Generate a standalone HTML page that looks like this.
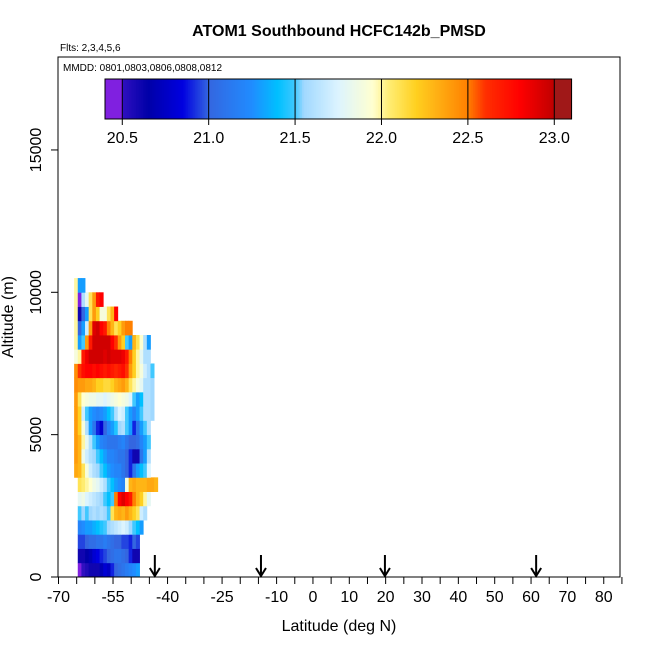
<!DOCTYPE html>
<html><head><meta charset="utf-8"><style>
body{margin:0;background:#fff;}
svg{display:block;font-family:"Liberation Sans",sans-serif;}
</style></head><body>
<svg id="chart" width="650" height="650" xmlns="http://www.w3.org/2000/svg">
<rect width="650" height="650" fill="#fff"/>
<text x="339" y="36" text-anchor="middle" font-size="16" font-weight="bold">ATOM1 Southbound HCFC142b_PMSD</text>
<text x="60" y="51" font-size="10">Flts: 2,3,4,5,6</text>
<g id="heat"></g>
<g id="marks"></g>
<rect x="58" y="57" width="562" height="520" fill="none" stroke="#000" stroke-width="1"/>
<text x="63" y="71" font-size="10">MMDD: 0801,0803,0806,0808,0812</text>
<g id="cbar"></g>
<g id="axes"></g>
<text x="339" y="631" text-anchor="middle" font-size="16">Latitude (deg N)</text>
<text transform="translate(13,317) rotate(-90)" text-anchor="middle" font-size="16">Altitude (m)</text>
</svg>
<script>
const xTicks = [-70,-65,-60,-55,-50,-45,-40,-35,-30,-25,-20,-15,-10,-5,0,5,10,15,20,25,30,35,40,45,50,55,60,65,70,75,80,85];
const xLabels = [-70,-55,-40,-25,-10,0,10,20,30,40,50,60,70,80];
const yTicks = [0,5000,10000,15000];
const arrowLats = [-43.5,-14.3,19.8,61.4];
const cbarTicks = [20.5,21.0,21.5,22.0,22.5,23.0];
const rowAlts = [0,500,1000,1500,2000,2500,3000,3500,4000,4500,5000,5500,6000,6500,7000,7500,8000,8500,9000,9500,10000];
const rowStartCol = [1,1,1,1,1,1,1,0,0,0,0,0,0,0,0,0,0,0,0,0,0];
const rowValues = [
[20.45,20.5,20.55,20.6,20.6,20.6,20.7,20.8,20.75,20.9,21.0,21.05,21.1,21.15,21.2,21.25,21.3],
[20.6,20.6,20.65,20.7,20.8,20.85,20.9,20.95,21.0,21.05,21.1,21.1,21.05,21.0,20.9,20.6,20.6],
[20.95,20.95,21.0,21.05,21.05,21.1,21.1,21.15,21.1,21.05,21.0,21.0,20.95,20.95,20.9,21.0,20.95],
[21.2,21.25,21.3,21.3,21.35,21.4,21.45,21.5,21.55,21.6,21.65,21.7,21.75,21.7,21.55,21.5,21.4,21.3],
[21.5,21.55,21.5,21.55,21.6,21.55,21.6,21.55,21.5,22.1,22.3,22.35,22.3,22.4,22.3,22.2,22.1,21.7,21.6],
[21.8,21.85,21.75,21.7,21.65,21.6,21.55,21.5,21.4,21.5,22.5,22.8,22.9,22.8,22.7,22.5,22.3,22.2,22.0,21.8],
[22.1,22.05,22.0,21.95,21.85,21.8,21.7,21.6,21.5,21.4,21.3,21.25,21.2,21.9,22.3,22.35,22.3,22.3,22.3,22.35,22.35,22.3],
[22.35,22.3,22.1,21.9,21.7,21.6,21.55,21.5,21.4,21.3,21.25,21.2,21.2,21.1,21.0,20.9,21.1,21.3,21.4,21.5,21.75],
[22.4,22.3,21.85,21.7,21.6,21.55,21.5,21.4,21.3,21.2,21.2,21.15,21.1,21.1,21.0,20.9,20.6,20.6,21.1,21.3,21.6],
[22.4,22.3,22.0,21.8,21.6,21.5,21.3,21.2,21.15,21.1,21.1,21.1,21.15,21.2,21.1,21.0,21.0,21.05,21.2,21.3,21.5],
[22.4,22.2,21.9,21.6,21.3,21.1,20.9,20.8,21.0,21.2,21.3,21.45,21.55,21.6,21.5,21.3,20.9,21.1,21.3,21.5,21.6],
[22.4,22.2,21.7,21.5,21.3,21.25,21.2,21.25,21.3,21.4,21.5,21.6,21.75,21.7,21.5,21.3,21.2,21.3,21.5,21.6,21.6,21.55],
[22.4,22.1,21.95,21.9,21.85,21.85,21.8,21.8,21.75,21.8,21.85,21.9,21.95,21.9,21.85,21.75,21.5,21.3,21.4,21.6,21.6,21.55],
[22.45,22.4,22.4,22.35,22.35,22.3,22.2,22.2,22.15,22.15,22.2,22.3,22.35,22.4,22.3,22.1,22.0,21.9,21.8,21.6,21.6,21.55],
[22.45,22.6,22.75,22.8,22.8,22.75,22.8,22.75,22.7,22.75,22.7,22.65,22.7,22.75,22.6,22.4,22.2,22.0,21.9,21.7,21.6,21.5],
[21.9,22.0,22.7,22.85,22.95,22.95,22.95,22.95,22.9,22.95,22.9,22.9,22.9,22.85,22.7,22.5,22.2,22.0,21.8,21.6,21.6],
[22.0,21.3,21.5,22.4,22.7,22.95,22.95,22.95,22.95,22.95,22.8,22.6,22.4,22.2,21.5,21.3,22.3,22.1,21.95,21.6,21.3],
[22.0,21.0,21.3,21.7,22.4,22.9,22.95,22.8,22.7,22.5,22.3,22.1,22.2,22.4,22.5,22.5],
[22.0,20.6,21.0,21.3,22.1,22.4,22.2,21.9,21.9,22.1,22.3,22.8],
[22.0,20.4,21.6,21.8,22.1,22.4,22.7,22.8],
[22.0,21.3,21.3]
];
const colLat0 = -65.7, colW = 1, rowH = 500;
const NS='http://www.w3.org/2000/svg';
const X = lat => 58.5 + (lat + 70) * 3.635;
const Y = alt => 577 - alt * 0.02847;
const CB = v => 105 + (v - 20.4) * 172.8;
const stops = [[20.4,[128,32,224]],[20.499,[128,32,224]],[20.5,[48,16,192]],[20.65,[0,0,168]],[20.85,[0,0,224]],[21.0,[52,102,224]],[21.25,[32,140,255]],[21.4,[0,192,255]],[21.5,[64,200,255]],[21.55,[160,216,255]],[21.75,[220,244,255]],[21.95,[255,255,208]],[22.05,[255,236,112]],[22.2,[255,208,32]],[22.5,[255,128,0]],[22.6,[255,48,0]],[22.8,[255,0,0]],[22.999,[192,0,0]],[23.0,[160,24,24]],[23.1,[160,24,24]]];
function col(v){
  if(v<=stops[0][0]) return 'rgb('+stops[0][1]+')';
  for(let i=1;i<stops.length;i++){ if(v<=stops[i][0]){const a=stops[i-1],b=stops[i];const t=(v-a[0])/(b[0]-a[0]);return 'rgb('+a[1].map((c,k)=>Math.round(c+(b[1][k]-c)*t)).join(',')+')';} }
  return 'rgb('+stops[stops.length-1][1]+')';
}
function mk(tag,attrs,parent){const e=document.createElementNS(NS,tag);for(const k in attrs)e.setAttribute(k,attrs[k]);parent.appendChild(e);return e;}
const heat=document.getElementById('heat');
rowValues.forEach((row,r)=>{
  row.forEach((v,i)=>{
    const c=rowStartCol[r]+i;
    const lat=colLat0+c*colW;
    const e=mk('rect',{x:X(lat),y:Y(rowAlts[r]+rowH),width:X(lat+colW)-X(lat)+0.4,height:Y(rowAlts[r])-Y(rowAlts[r]+rowH)+0.4,fill:col(v)},heat);
    
    
  });
});
// colorbar
const cb=document.getElementById('cbar');
for(let v=20.4;v<23.1;v+=0.01){const e=mk('rect',{x:CB(v),y:79,width:2.2,height:40,fill:col(v+0.005)},cb);

}
mk('rect',{x:105,y:79,width:CB(23.1)-105,height:40,fill:'none',stroke:'#000'},cb);
cbarTicks.forEach(v=>{mk('line',{x1:CB(v),x2:CB(v),y1:79,y2:125,stroke:'#000'},cb);
const t=mk('text',{x:CB(v),y:143,'text-anchor':'middle','font-size':16},cb);t.textContent=v.toFixed(1);

});
// axes
const ax=document.getElementById('axes');
xTicks.forEach(v=>{mk('line',{x1:X(v),x2:X(v),y1:577,y2:584,stroke:'#000'},ax);});
xLabels.forEach(v=>{const t=mk('text',{x:X(v),y:602,'text-anchor':'middle','font-size':16},ax);t.textContent=v;

});
yTicks.forEach(v=>{mk('line',{x1:51,x2:58,y1:Y(v),y2:Y(v),stroke:'#000'},ax);
const t=mk('text',{transform:'translate(41,'+Y(v)+') rotate(-90)','text-anchor':'middle','font-size':16},ax);t.textContent=v;

});
// arrows
const mg=document.getElementById('marks');
arrowLats.forEach(l=>{const x=X(l);
const g=mk('g',{},mg);


mk('line',{x1:x,x2:x,y1:555,y2:576,stroke:'#000','stroke-width':2},g);
mk('polyline',{points:(x-5)+',568 '+x+',576 '+(x+5)+',568',fill:'none',stroke:'#000','stroke-width':2},g);});
</script>
</body></html>
